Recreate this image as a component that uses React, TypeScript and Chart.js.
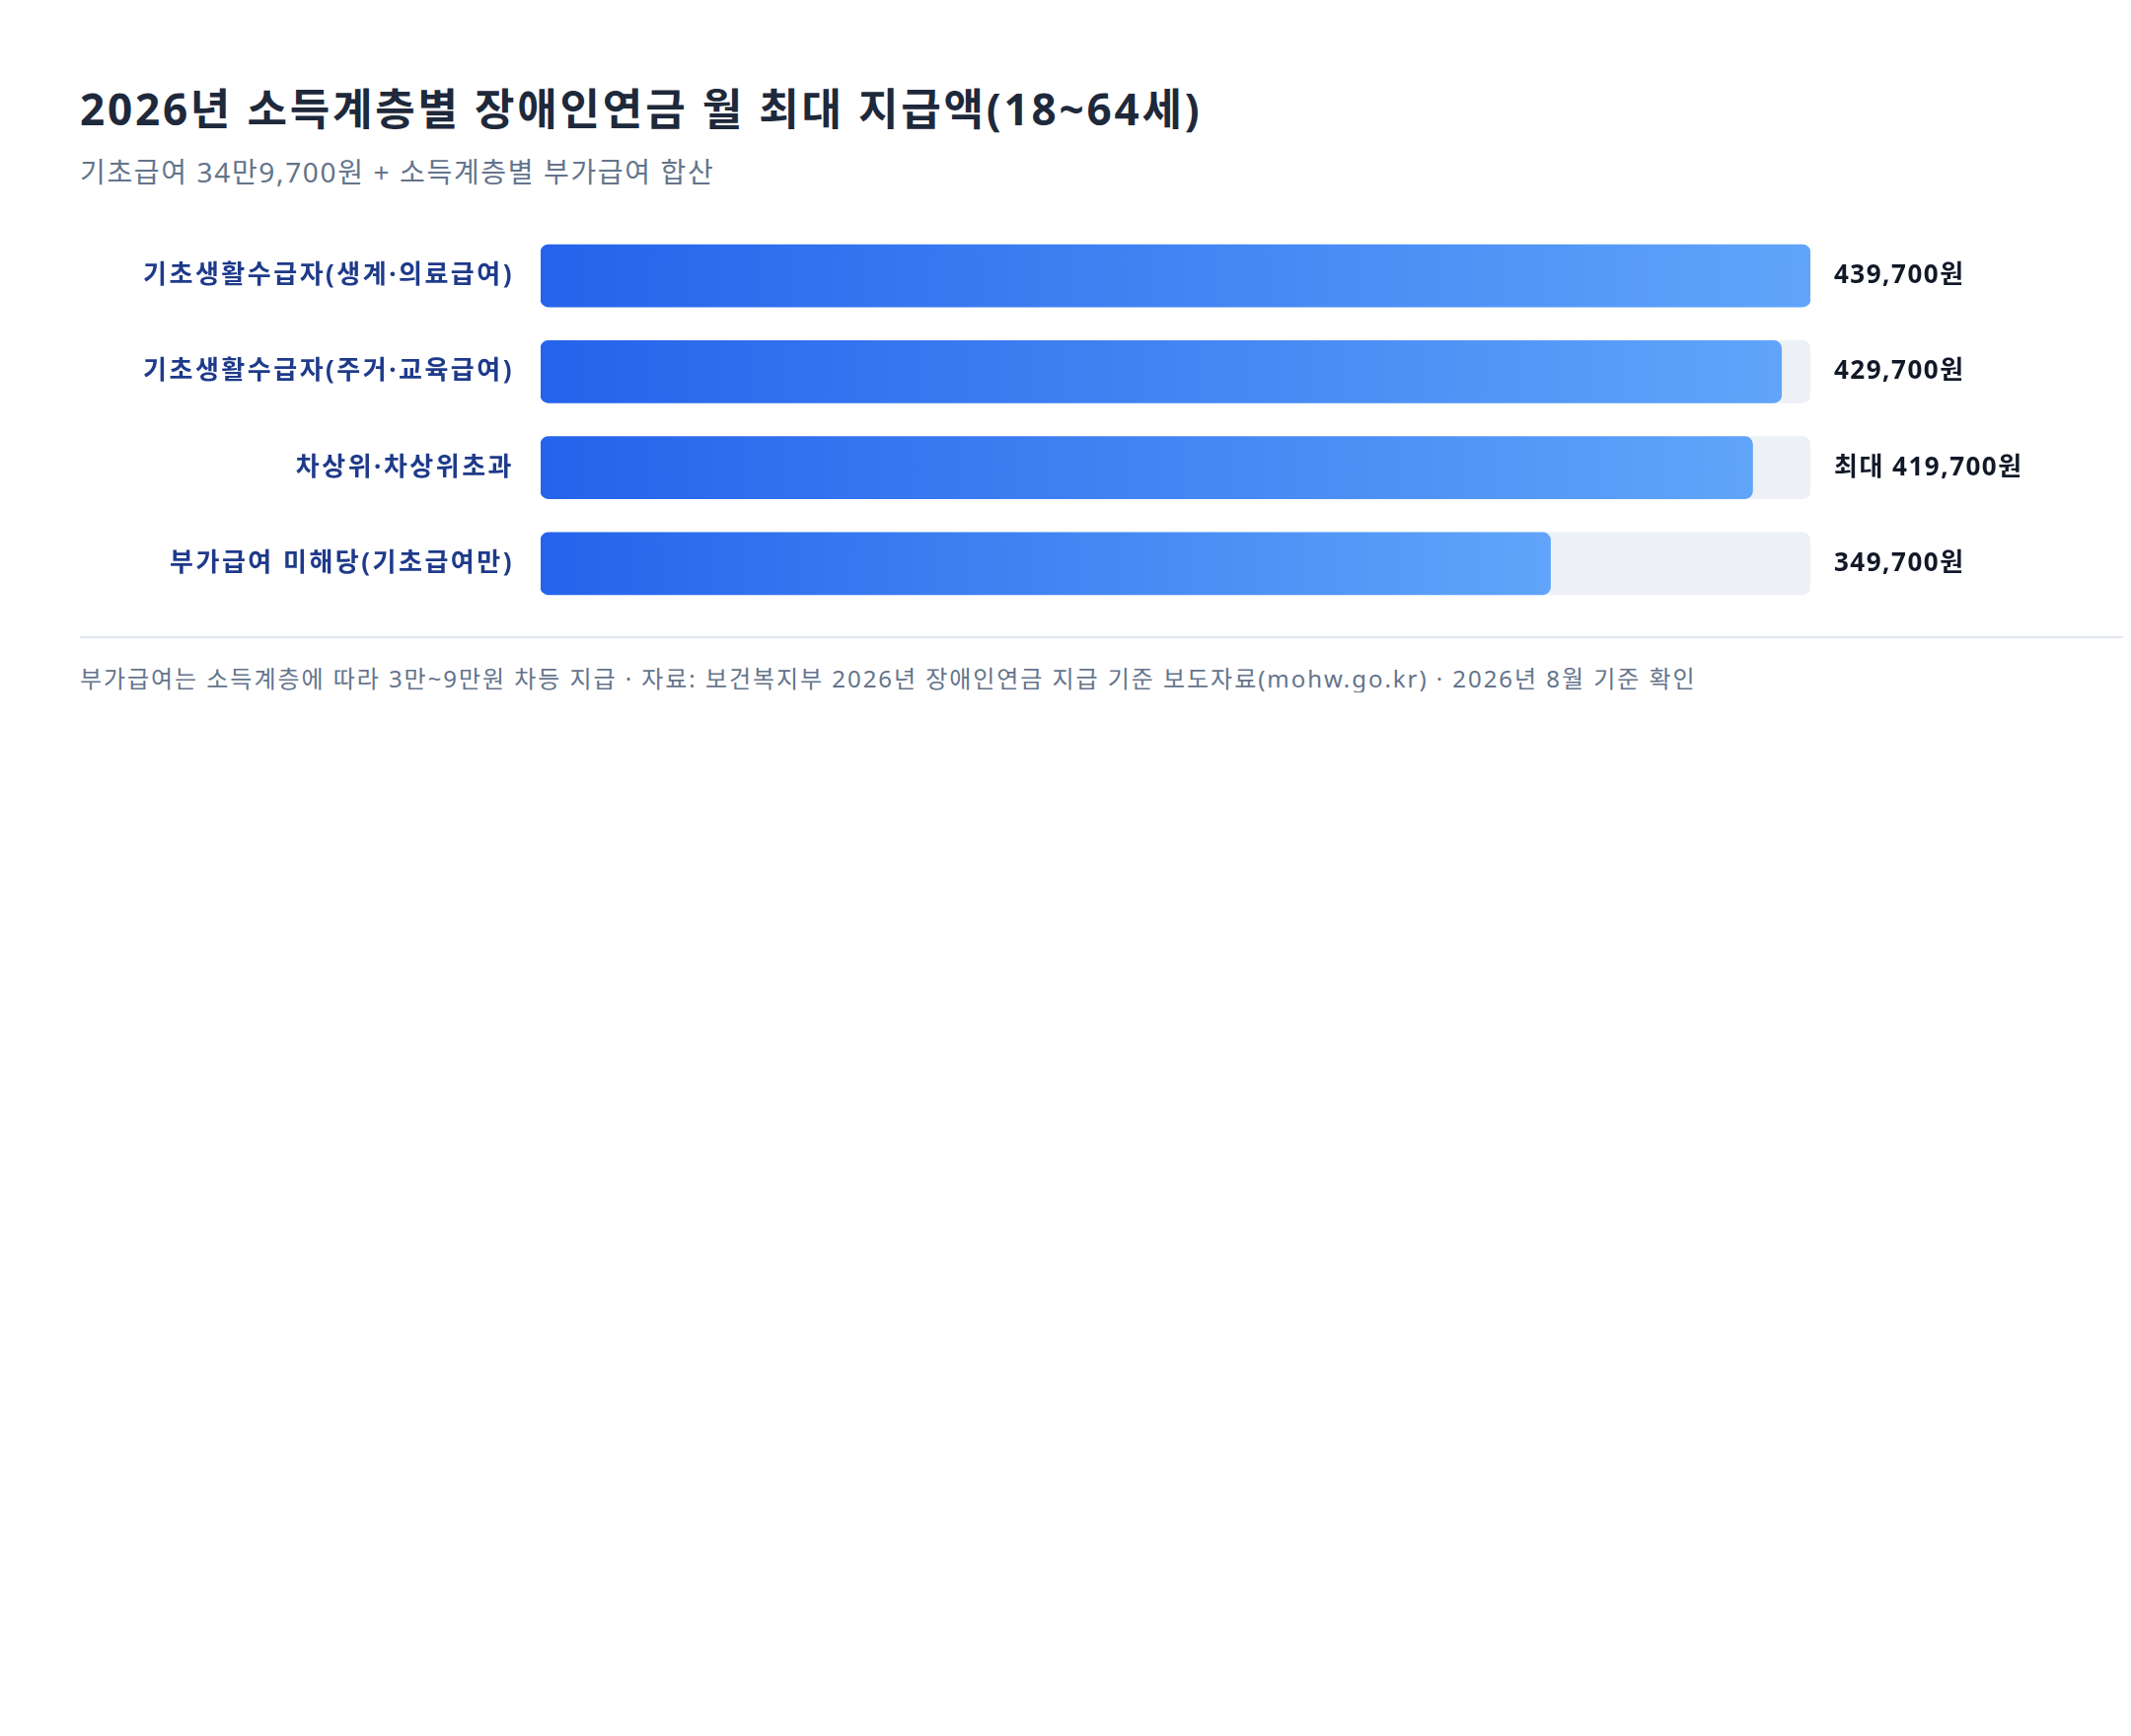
import React, { useEffect, useRef } from 'react';
import Chart from 'chart.js/auto';

const categories = [
  '기초생활수급자(생계·의료급여)',
  '기초생활수급자(주거·교육급여)',
  '차상위·차상위초과',
  '부가급여 미해당(기초급여만)',
];
const amounts = [439700, 429700, 419700, 349700];
const valueLabels = ['439,700원', '429,700원', '최대 419,700원', '349,700원'];
const maxAmount = 439700;
const trackValues = categories.map(() => maxAmount);

const FONT = '"Noto Sans", "Noto Sans CJK KR", sans-serif';

// wider letter spacing for canvas text, to get closer to the original font
const spacingPlugin = {
  id: 'spacing',
  beforeDraw(chart: any) {
    chart.ctx.letterSpacing = '2.5px';
  },
};

// draws the value text right of the track
const valueLabelPlugin = {
  id: 'valueLabels',
  afterDatasetsDraw(chart: any) {
    const { ctx, chartArea } = chart;
    const meta = chart.getDatasetMeta(0);
    ctx.save();
    ctx.letterSpacing = '1.5px';
    ctx.font = `bold 26px ${FONT}`;
    ctx.fillStyle = '#111827';
    ctx.textAlign = 'left';
    ctx.textBaseline = 'middle';
    meta.data.forEach((bar: any, i: number) => {
      ctx.fillText(valueLabels[i], chartArea.right + 24, bar.y);
    });
    ctx.restore();
  },
};

const App: React.FC = () => {
  const chartRef = useRef<HTMLCanvasElement>(null);

  useEffect(() => {
    if (!chartRef.current) return;
    const chart = new Chart(chartRef.current, {
      type: 'bar',
      data: {
        labels: categories,
        datasets: [
          {
            data: amounts,
            backgroundColor: (c: any) => {
              const area = c.chart.chartArea;
              if (!area || c.parsed == null) return '#3b82f6';
              const x = c.chart.scales.x;
              const g = c.chart.ctx.createLinearGradient(
                x.getPixelForValue(0), 0, x.getPixelForValue(c.parsed.x), 0
              );
              g.addColorStop(0, '#2563eb');
              g.addColorStop(1, '#60a5fa');
              return g;
            },
            borderRadius: 8,
            borderSkipped: false,
            barThickness: 63,
            grouped: false,
          },
          {
            data: trackValues,
            backgroundColor: '#edf1f6',
            borderRadius: 8,
            borderSkipped: false,
            barThickness: 63,
            grouped: false,
          },
        ],
      },
      options: {
        indexAxis: 'y',
        responsive: true,
        maintainAspectRatio: false,
        animation: false,
        layout: { padding: { top: 31, bottom: 20, left: 0, right: 244 } },
        plugins: {
          legend: { display: false },
          tooltip: { enabled: false },
        },
        scales: {
          x: {
            min: 0,
            max: maxAmount,
            display: false,
          },
          y: {
            grid: { display: false, drawTicks: false },
            border: { display: false },
            afterFit: (s: any) => {
              s.width = 467;
              // tick padding should only push labels sideways
              s.paddingTop = 0;
              s.paddingBottom = 0;
            },
            ticks: {
              padding: 27,
              color: '#1e3a8a',
              font: { family: FONT, size: 26, weight: 'bold' },
            },
          },
        },
      },
      plugins: [spacingPlugin, valueLabelPlugin],
    });
    return () => {
      chart.destroy();
    };
  }, []);

  return (
    <div style={{ padding: '76px 73px 0 73px', fontFamily: FONT }}>
      <h1 style={{ margin: 0, fontSize: 44, lineHeight: '53px', fontWeight: 700, color: '#1e293b', letterSpacing: 2.8 }}>
        2026년 소득계층별 장애인연금 월 최대 지급액(18~64세)
      </h1>
      <div style={{ marginTop: 20, fontSize: 28, lineHeight: '34px', color: '#64748b', letterSpacing: 1.65 }}>
        기초급여 34만9,700원 + 소득계층별 부가급여 합산
      </div>
      <div style={{ position: 'relative', height: 440, marginTop: 9 }}>
        <canvas ref={chartRef} />
      </div>
      <div style={{ height: 2, background: '#e2e8f0', marginTop: 5, marginRight: -81 }} />
      <div style={{ marginTop: 26, fontSize: 24, lineHeight: '29px', color: '#64748b', letterSpacing: 1.95 }}>
        부가급여는 소득계층에 따라 3만~9만원 차등 지급 · 자료: 보건복지부 2026년 장애인연금 지급 기준 보도자료(mohw.go.kr) · 2026년 8월 기준 확인
      </div>
    </div>
  );
};

export default App;
